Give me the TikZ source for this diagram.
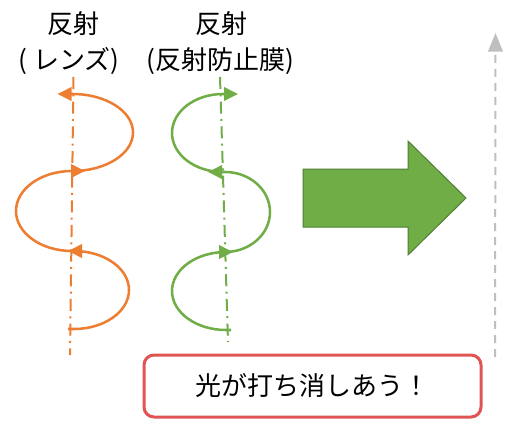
\documentclass[tikz,border=0pt]{standalone}
\usepackage{fontspec}
\newfontfamily\jp{Noto Sans CJK JP}
\usetikzlibrary{arrows.meta}
\definecolor{orng}{HTML}{ED7D31}
\definecolor{grn}{HTML}{70AD47}
\definecolor{grnd}{HTML}{507E32}
\definecolor{gry}{HTML}{BFBFBF}
\definecolor{redb}{HTML}{E05454}
\begin{document}
\begin{tikzpicture}[x=0.75pt,y=-0.75pt,
  axisline/.style={line width=1.5pt, dash pattern=on 9pt off 4pt on 1.5pt off 4pt},
  wave/.style={line width=1.9pt},
  tipped/.style={-{Triangle[length=10.5pt,width=10pt]}},
  ttl/.style={font=\jp\fontsize{19.5pt}{23pt}\selectfont, inner sep=0pt}]
\useasboundingbox (0,0) rectangle (505,420);

% titles
\node[ttl] (t1) at (73.5,24) {反射};
\node[ttl] (t2) at (69,61) {( レンズ)};
\node[ttl] (t3) at (221,24) {反射};
\node[ttl] (t4) at (220,61) {(反射防止膜)};

% orange (lens)
\coordinate (oT) at (73.5,77);
\coordinate (oB) at (70,355);
\draw[axisline,orng] (oT) -- (oB);
\coordinate (o1) at (72.5,171);
\coordinate (o2) at (72,251);
\coordinate (o3) at (68,329);
\draw[wave,orng,tipped] (o1) arc[start angle=90,end angle=-90,x radius=60.5,y radius=38.5] -- ++(-15,0);
\draw[wave,orng,tipped] (o2) arc[start angle=90,end angle=270,x radius=56,y radius=40] -- ++(13,0);
\draw[wave,orng,tipped] (o3) -- ++(6,0) arc[start angle=90,end angle=-90,x radius=55,y radius=39] -- ++(-6,0);

% green (AR coating)
\coordinate (gT) at (220,77);
\coordinate (gB) at (228,342);
\draw[axisline,grn] (gT) -- (gB);
\coordinate (g1) at (223,172);
\coordinate (g2) at (225,252);
\coordinate (g3) at (231,330);
\draw[wave,grn,tipped] (g1) arc[start angle=90,end angle=270,x radius=51,y radius=39] -- ++(15,0);
\draw[wave,grn,tipped] (g2) arc[start angle=90,end angle=-90,x radius=45,y radius=40] -- ++(-17,0);
\draw[wave,grn,tipped] (g3) -- ++(-5,0) arc[start angle=90,end angle=270,x radius=54,y radius=39] -- ++(7,0);

% big arrow
\draw[grnd, fill=grn, line width=0.75pt] (303,169) -- (408,169) -- (408,141) -- (466,198) -- (408,255) -- (408,227) -- (303,227) -- cycle;

% gray dashed arrow
\coordinate (rB) at (495,357);
\coordinate (rT) at (495.5,33);
\draw[gry, line width=1.5pt, dash pattern=on 6pt off 4.5pt, -{Triangle[length=14pt,width=11pt]}] (rB) -- (rT);

% box
\node[draw=redb, line width=2.25pt, rounded corners=7.5pt, minimum width=252.75pt, minimum height=46.5pt, font=\jp\fontsize{19.5pt}{23pt}\selectfont, inner sep=0pt] (box) at (312.5,386) {光が打ち消しあう！};
\end{tikzpicture}
\end{document}
